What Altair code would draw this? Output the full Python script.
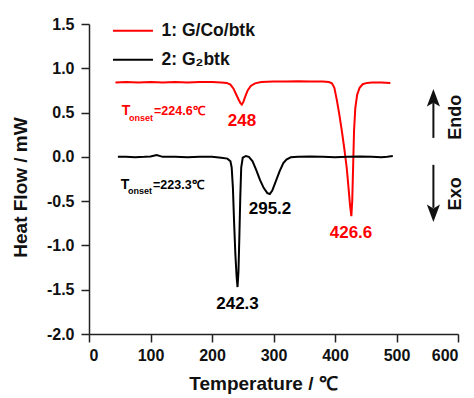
import altair as alt
import pandas as pd

FONT = "Liberation Sans"

# ---- series data ----
red_x = [43, 60, 80, 100, 120, 140, 160, 180, 200, 215, 224, 230, 235, 239, 243, 246, 248.5, 251, 254, 258, 263, 270, 280, 300, 320, 340, 360, 380, 390, 395, 399, 403, 407, 411, 415, 419, 422, 424.5, 426.6, 428, 429.5, 431, 433, 436, 440, 445, 452, 460, 475, 490]
red_y = [0.84, 0.845, 0.84, 0.845, 0.84, 0.845, 0.84, 0.845, 0.845, 0.84, 0.835, 0.815, 0.77, 0.71, 0.65, 0.61, 0.59, 0.62, 0.68, 0.75, 0.80, 0.83, 0.845, 0.85, 0.85, 0.855, 0.85, 0.85, 0.845, 0.83, 0.78, 0.64, 0.48, 0.30, 0.10, -0.12, -0.35, -0.55, -0.67, -0.50, -0.10, 0.30, 0.55, 0.70, 0.78, 0.82, 0.835, 0.84, 0.84, 0.835]

blk_x = [47, 60, 75, 90, 100, 110, 120, 140, 160, 180, 200, 215, 225, 230, 232, 234, 236, 238, 240, 241.5, 243, 244.5, 246, 247.5, 250, 255, 260, 266, 272, 278, 284, 290, 294, 298, 304, 310, 316, 321, 328, 340, 360, 380, 400, 420, 440, 460, 475, 485, 494]
blk_y = [0.0, 0.0, -0.005, 0.0, 0.005, 0.02, 0.0, 0.0, -0.005, 0.0, 0.0, -0.01, -0.02, -0.05, -0.12, -0.35, -0.75, -1.1, -1.35, -1.47, -1.3, -0.9, -0.45, -0.12, -0.01, 0.01, 0.0, -0.05, -0.15, -0.26, -0.35, -0.41, -0.42, -0.38, -0.27, -0.16, -0.07, -0.03, -0.005, 0.0, 0.005, 0.0, -0.005, 0.0, 0.005, 0.0, -0.005, 0.0, 0.01]

series_names = ["1: G/Co/btk", "2: G₂btk"]
series_colors = ["#ff0000", "#000000"]

x_ticks = [0, 100, 200, 300, 400, 500, 600]
y_ticks = [-2.0, -1.5, -1.0, -0.5, 0.0, 0.5, 1.0, 1.5]

# peak labels
peak_text = ["248", "426.6", "242.3", "295.2"]
peak_x = [248.8, 426.0, 241.5, 294.3]
peak_y = [0.41, -0.858, -1.659, -0.593]
peak_color = ["#ff0000", "#ff0000", "#000000", "#000000"]

# onset annotations (T, subscript, value)
onset_text = ["T", "onset", "=224.6℃", "T", "onset", "=223.3℃"]
onset_x = [53.1, 65.0, 105.7, 51.5, 63.4, 104.1]
onset_y = [0.474, 0.41, 0.474, -0.361, -0.418, -0.361]
onset_size = [14, 9, 12.5, 14, 9, 12.5]
onset_color = ["#ff0000"] * 3 + ["#000000"] * 3

# legend
leg_x1, leg_x2, leg_tx = 39.0, 104.0, 118.0
leg_y = [1.425, 1.095]

# Endo / Exo arrows
arr_x = 560.0
arr_shaft_y1 = [0.61, -0.09]
arr_shaft_y2 = [0.214, -0.576]
arr_head_y = [0.666, -0.638]
arr_word = ["Endo", "Exo"]
arr_word_x = 597.0
arr_word_y = [0.446, -0.418]

# ---- build tables ----
curves = pd.concat([
    pd.DataFrame({"T": red_x, "H": red_y, "s": series_names[0], "o": range(len(red_x))}),
    pd.DataFrame({"T": blk_x, "H": blk_y, "s": series_names[1], "o": range(len(blk_x))}),
])

xscale = alt.Scale(domain=[0, 600], nice=False, zero=False)
yscale = alt.Scale(domain=[-2.0, 1.5], nice=False, zero=False)

axis_common = dict(
    grid=False, labelFont=FONT, labelFontSize=16, labelFontWeight="bold", labelColor="#111",
    titleFont=FONT, titleFontSize=19, titleFontWeight="bold", titleColor="#111",
    domainColor="#222", domainWidth=1.5, tickColor="#222", tickWidth=1.5, tickSize=8,
)

lines = alt.Chart(curves).mark_line(strokeWidth=2, clip=True).encode(
    x=alt.X("T:Q", scale=xscale, axis=alt.Axis(
        values=x_ticks, format="d", labelPadding=5, title="Temperature / ℃",
        titleX=174, titleY=55, titleBaseline="alphabetic", **axis_common)),
    y=alt.Y("H:Q", scale=yscale, axis=alt.Axis(
        values=y_ticks, labelPadding=7, title="Heat Flow / mW",
        labelExpr="replace(format(datum.value, '.1f'), '\u2212', '-')",
        titleX=-69, titleY=163, titleAlign="center", titleBaseline="middle", titleAngle=-90,
        **axis_common)),
    color=alt.Color("s:N", scale=alt.Scale(domain=series_names, range=series_colors), legend=None),
    order="o:Q",
    detail="s:N",
)

peaks = alt.Chart(pd.DataFrame({"x": peak_x, "y": peak_y, "t": peak_text, "c": peak_color})).mark_text(
    font=FONT, fontSize=17, fontWeight="bold", align="center", baseline="middle"
).encode(x=alt.X("x:Q", scale=xscale), y=alt.Y("y:Q", scale=yscale), text="t:N",
         color=alt.Color("c:N", scale=None))

onsets = alt.Chart(pd.DataFrame({"x": onset_x, "y": onset_y, "t": onset_text, "c": onset_color, "z": onset_size})).mark_text(
    font=FONT, fontWeight="bold", align="left", baseline="alphabetic"
).encode(x=alt.X("x:Q", scale=xscale), y=alt.Y("y:Q", scale=yscale), text="t:N",
         color=alt.Color("c:N", scale=None), size=alt.Size("z:Q", scale=None))

leg_df = pd.DataFrame({"x1": [leg_x1] * 2, "x2": [leg_x2] * 2, "tx": [leg_tx] * 2, "y": leg_y,
                       "t": series_names, "c": series_colors})
leg_lines = alt.Chart(leg_df).mark_rule(strokeWidth=2).encode(
    x=alt.X("x1:Q", scale=xscale), x2="x2:Q", y=alt.Y("y:Q", scale=yscale),
    color=alt.Color("c:N", scale=None))
leg_text = alt.Chart(leg_df).mark_text(
    font=FONT, fontSize=17.5, fontWeight="bold", align="left", baseline="middle", color="#111"
).encode(x=alt.X("tx:Q", scale=xscale), y=alt.Y("y:Q", scale=yscale), text="t:N")

arr_df = pd.DataFrame({"x": [arr_x] * 2, "y1": arr_shaft_y1, "y2": arr_shaft_y2, "hy": arr_head_y,
                       "w": arr_word, "wx": [arr_word_x] * 2, "wy": arr_word_y})
shafts = alt.Chart(arr_df).mark_rule(strokeWidth=2, color="#111").encode(
    x=alt.X("x:Q", scale=xscale), y=alt.Y("y1:Q", scale=yscale), y2="y2:Q")
head_up = alt.Chart(arr_df.iloc[[0]]).mark_point(
    shape="M0,-1L0.75,1L0,0.55L-0.75,1Z", filled=True, color="#111", size=306, opacity=1
).encode(x=alt.X("x:Q", scale=xscale), y=alt.Y("hy:Q", scale=yscale))
head_dn = alt.Chart(arr_df.iloc[[1]]).mark_point(
    shape="M0,1L0.75,-1L0,-0.55L-0.75,-1Z", filled=True, color="#111", size=306, opacity=1
).encode(x=alt.X("x:Q", scale=xscale), y=alt.Y("hy:Q", scale=yscale))
words = alt.Chart(arr_df).mark_text(
    font=FONT, fontSize=18, fontWeight="bold", align="center", baseline="middle", angle=270, color="#111"
).encode(x=alt.X("wx:Q", scale=xscale), y=alt.Y("wy:Q", scale=yscale), text="w:N")

chart = alt.layer(
    lines, peaks, onsets, leg_lines, leg_text, shafts, head_up, head_dn, words
).properties(
    width=369, height=310,
    autosize=alt.AutoSizeParams(type="none"),
    padding={"left": 81, "top": 16, "right": 8, "bottom": 60},
    background="white",
).configure_view(stroke=None)

chart.save("out.html", embed_options={"renderer": "svg", "actions": False})
